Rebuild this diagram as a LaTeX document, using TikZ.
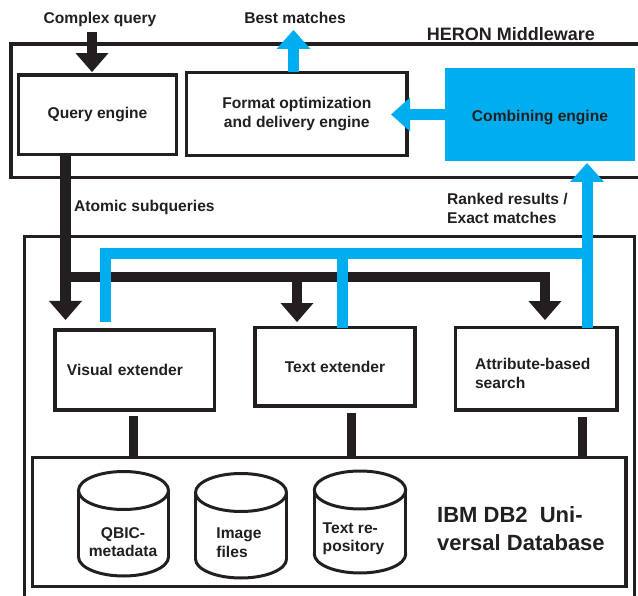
\documentclass[tikz,border=0pt]{standalone}
\usepackage{fontspec}
\setmainfont{Liberation Sans}
\usetikzlibrary{arrows.meta}
\definecolor{heronblue}{RGB}{0,174,239}
\definecolor{ink}{RGB}{35,31,32}
\tikzset{
  lbl/.style={font=\bfseries\fontsize{15.6}{18.5}\selectfont, text=ink, inner sep=0pt},
  box/.style={draw=ink, line width=3.3pt, inner sep=0pt, outer sep=0pt, lbl, align=center},
  frame/.style={draw=ink, line width=3.4pt},
  cyl/.style={draw=ink, line width=3pt},
  blk/.style={draw=ink, line width=10.5pt},
  blkarrow/.style={blk, -{Triangle[width=33pt,length=19pt,line width=0pt]}},
  blueline/.style={draw=heronblue, line width=11pt},
  bluearrow/.style={blueline, -{Triangle[width=34pt,length=19pt,line width=0pt]}},
  bar/.style={draw=ink, line width=9pt},
}
\newcommand{\drawcyl}[4]{%
  \draw[cyl] (#1,#4) ellipse [x radius=#2pt, y radius=19pt];
  \fill[white] ({#1-#2},#3) rectangle ({#1+#2},#4);
  \draw[cyl] ({#1-#2},#3) -- ({#1-#2},#4) ({#1+#2},#3) -- ({#1+#2},#4);
  \draw[cyl,fill=white] (#1,#3) ellipse [x radius=#2pt, y radius=19pt];
}
\begin{document}
\begin{tikzpicture}[x=1pt,y=-1pt,line join=miter]
\useasboundingbox (0,0) rectangle (638,596);

% frames
\draw[frame] (642,44) -| (11,177.5) -- (642,177.5);
\draw[frame] (24.5,600) |- (634.5,236.5) -- (634.5,600);

% boxes
\node[box, minimum width=158pt, minimum height=79.5pt] (qe) at (97.5,114.8) {Query engine};
\node[box, minimum width=220.5pt, minimum height=83pt] (fo) at (296.8,114) {Format optimization\\and delivery engine};
\node[box, draw=none, fill=heronblue, minimum width=190pt, minimum height=93pt, text height=18.5pt, text depth=4pt] (ce) at (540,114.5) {Combining engine};
\node[box, minimum width=159.5pt, minimum height=80pt, text width=135.5pt, inner xsep=12pt, align=left] (ve) at (134.7,370) {Visual extender};
\node[box, minimum width=160pt, minimum height=78.5pt] (te) at (335,366.8) {Text extender};
\node[box, minimum width=161.5pt, minimum height=82.5pt, text width=122.5pt, inner xsep=19.5pt, align=left, text height=21pt] (ab) at (536.3,368.8) {Attribute-based\\search};
\node[box, minimum width=593.5pt, minimum height=129pt] (db) at (329.3,522) {};

% labels
\node[lbl] (cq) at (100,19) {Complex query};
\node[lbl] (bm) at (295,18) {Best matches};
\node[lbl, font=\bfseries\fontsize{18}{22}\selectfont] (hm) at (511,34) {HERON Middleware};
\node[lbl, anchor=west] (as) at (74,207) {Atomic subqueries};
\node[lbl, anchor=west, align=left] (rr) at (447,208.5) {Ranked results /\\Exact matches};
\node[lbl, font=\bfseries\fontsize{22}{28}\selectfont, anchor=west, align=left] (ibm) at (437,529) {IBM DB2~~Uni-\\versal Database};

% cylinders
\drawcyl{123.5}{45}{490.5}{557}
\drawcyl{241}{45.5}{492.5}{559}
\drawcyl{360}{45.7}{490}{554}
\node[lbl, align=center] (c1) at (123,542) {QBIC-\\metadata};
\node[lbl, align=left] (c2) at (239,542.5) {Image\\files};
\node[lbl, align=left] (c3) at (353.5,539) {Text re-\\pository};

% coordinates
\coordinate (cqtop) at (92,32);
\coordinate (qtip) at ([xshift=-69.2pt,yshift=10pt]ve.north);
\coordinate (j1) at (65.5,277);
\coordinate (abtip) at ([xshift=8.7pt,yshift=7.5pt]ab.north);
\coordinate (tetip) at ([xshift=-38pt,yshift=5.5pt]te.north);
\coordinate (bvY) at (0,253.5);
\coordinate (vebl) at ([xshift=-29.2pt,yshift=8pt]ve.north);
\coordinate (tebl) at ([xshift=7pt]te.north);
\coordinate (abbl) at ([xshift=50.7pt]ab.north);
\coordinate (cetip) at ([yshift=-2pt]ce.south);
\coordinate (fotip) at ([xshift=-16pt]fo.east);
\coordinate (bmbase) at ([xshift=-3.3pt]fo.north);
\coordinate (bmtip) at ([xshift=-3.3pt,yshift=42.5pt]fo.north);
\coordinate (vb) at ([xshift=-1.7pt,yshift=-6pt]ve.south);
\coordinate (tb) at ([xshift=16pt,yshift=-7pt]te.south);
\coordinate (ab2) at ([xshift=45.7pt,yshift=-7pt]ab.south);

% black connectors
\draw[blkarrow] (cqtop) -- ([xshift=-5.5pt,yshift=3pt]qe.north);
\draw[blkarrow] (qe.south -| qtip) -- (qtip);
\draw[blkarrow] (j1) -| (abtip);
\draw[blkarrow] (j1 -| tetip) -- (tetip);
\draw[bar] (vb) -- (vb |- db.north);
\draw[bar] (tb) -- (tb |- db.north);
\draw[bar] (ab2) -- (ab2 |- db.north);

% blue connectors
\draw[blueline] (vebl) |- (bvY -| abbl);
\draw[blueline] (bvY -| tebl) -- (tebl);
\draw[bluearrow] (abbl) -- (abbl |- cetip);
\draw[bluearrow] (ce.west) -- (ce.west -| fotip);
\draw[bluearrow] (bmbase) -- (bmtip);
\end{tikzpicture}
\end{document}
